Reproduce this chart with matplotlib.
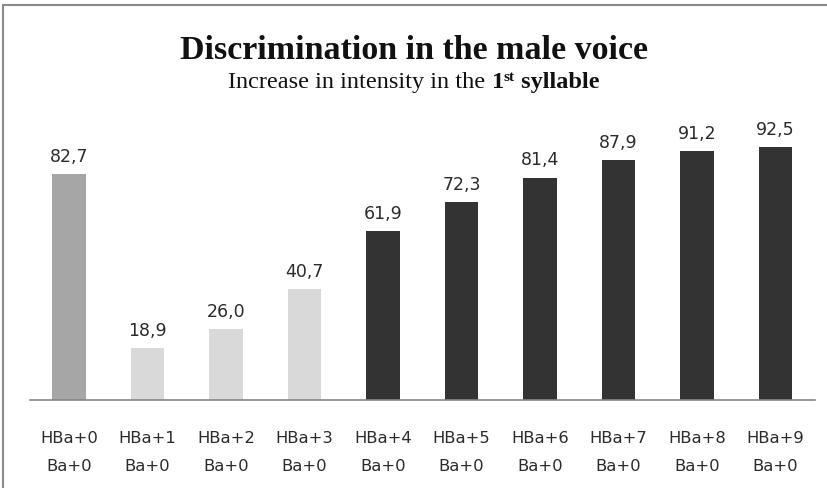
import matplotlib.pyplot as plt
from matplotlib.patches import Rectangle

categories = ['HBa+0\nBa+0', 'HBa+1\nBa+0', 'HBa+2\nBa+0', 'HBa+3\nBa+0', 'HBa+4\nBa+0',
              'HBa+5\nBa+0', 'HBa+6\nBa+0', 'HBa+7\nBa+0', 'HBa+8\nBa+0', 'HBa+9\nBa+0']
values = [82.7, 18.9, 26.0, 40.7, 61.9, 72.3, 81.4, 87.9, 91.2, 92.5]
colors = ['#a6a6a6'] + ['#d9d9d9'] * 3 + ['#333333'] * 6

fig = plt.figure(figsize=(8.28, 4.88), dpi=100)
ax = fig.add_axes([29.75 / 828, 88 / 488, 785 / 828, 273.3 / 488])

x = list(range(len(values)))
ax.bar(x, values, width=0.43, color=colors, zorder=2)
for xi, v in zip(x, values):
    ax.text(xi, v + 3, ('%.1f' % v).replace('.', ','), ha='center', va='bottom',
            fontsize=12.5, color='#2b2b2b', family='DejaVu Sans')

ax.set_xlim(-0.5, 9.5)
ax.set_ylim(0, 100)
ax.set_xticks(x)
ax.set_xticklabels(categories, fontsize=11.8, color='#2b2b2b', linespacing=2.15)
ax.tick_params(axis='x', length=0, pad=22)
ax.set_yticks([])
for s in ['top', 'right', 'left']:
    ax.spines[s].set_visible(False)
ax.spines['bottom'].set_color('#868686')
ax.spines['bottom'].set_linewidth(1.2)
ax.spines['bottom'].set_zorder(3)

# outer frame
fig.patches.append(Rectangle((3 / 828, -0.1), 1.2, 1.1 - 5 / 488,
                             transform=fig.transFigure, fill=False,
                             edgecolor='#8a8a8a', linewidth=1.5))

fig.text(0.5, 1 - 59 / 488, 'Discrimination in the male voice', ha='center', va='baseline',
         fontsize=24.5, fontweight='bold', family='Liberation Serif', color='#111111')

# subtitle built from pieces: plain, bold, superscript
renderer = fig.canvas.get_renderer()
sub_y = 1 - 88 / 488
pieces = [('Increase in intensity in the ', 'normal', 17.5, 0),
          ('1', 'bold', 17.5, 0),
          ('st', 'bold', 11, 7 / 488),
          (' syllable', 'bold', 17.5, 0)]
texts = []
for s, w, fs, dy in pieces:
    t = fig.text(0, sub_y + dy, s, ha='left', va='baseline', fontsize=fs, fontweight=w,
                 family='Liberation Serif', color='#111111')
    texts.append(t)
widths = [t.get_window_extent(renderer).width for t in texts]
total = sum(widths)
start = (828 - total) / 2
for t, w in zip(texts, widths):
    t.set_x(start / 828)
    start += w

fig.savefig('out.png', dpi=100)
